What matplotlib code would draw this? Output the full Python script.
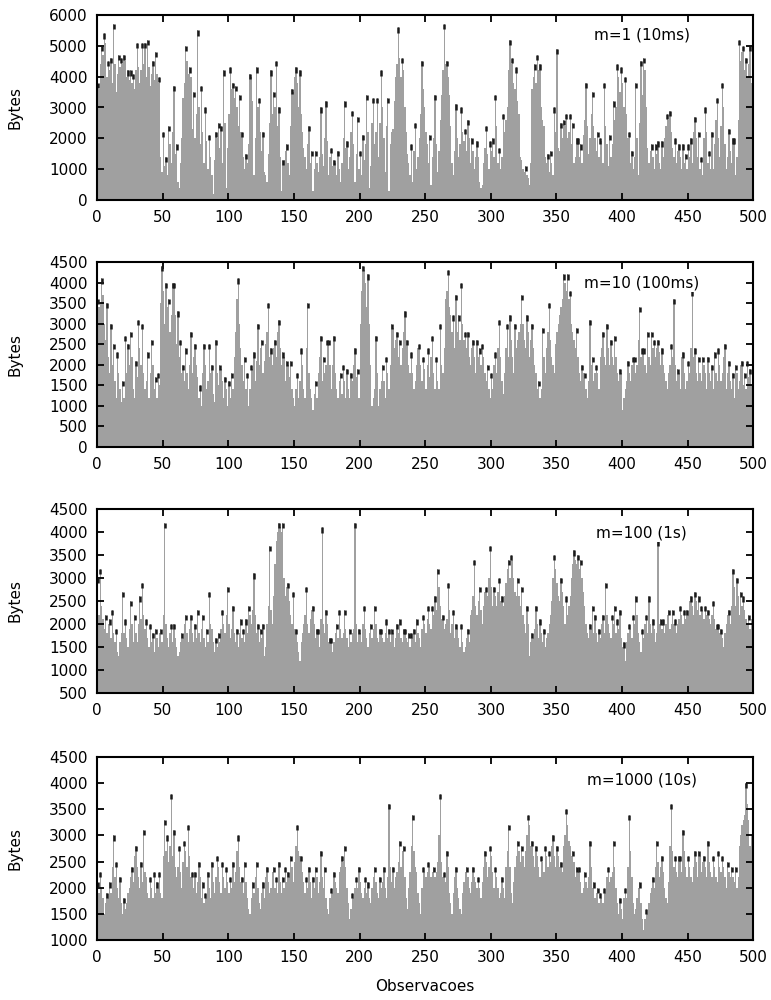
import numpy as np
from matplotlib import pyplot as plt

# values in hundreds of bytes, one per observation (0..499)
m1 = [38, 36, 44, 50, 47, 54, 51, 40, 45, 42,
      46, 38, 57, 44, 35, 41, 47, 43, 46, 44,
      47, 45, 40, 42, 39, 42, 38, 41, 36, 42,
      51, 43, 38, 42, 51, 44, 51, 40, 52, 43,
      37, 41, 45, 39, 48, 41, 38, 40, 14, 9,
      22, 11, 14, 8, 24, 18, 12, 22, 37, 15,
      18, 6, 4, 12, 20, 33, 38, 50, 45, 41,
      43, 40, 23, 35, 20, 28, 55, 30, 18, 37,
      22, 12, 30, 19, 10, 21, 14, 8, 2, 13,
      22, 20, 25, 17, 24, 12, 42, 25, 4, 17,
      28, 43, 36, 38, 33, 37, 30, 24, 34, 22,
      22, 14, 10, 15, 12, 18, 41, 40, 32, 8,
      20, 43, 30, 33, 22, 16, 22, 9, 8, 6,
      15, 25, 42, 28, 35, 30, 45, 24, 30, 14,
      3, 13, 13, 16, 18, 12, 8, 24, 36, 35,
      40, 43, 38, 30, 42, 28, 22, 17, 14, 10,
      18, 24, 12, 16, 3, 10, 16, 12, 9, 14,
      30, 15, 11, 20, 32, 19, 8, 14, 17, 11,
      13, 12, 8, 16, 10, 6, 12, 20, 32, 17,
      19, 10, 14, 22, 29, 18, 6, 15, 27, 10,
      16, 8, 21, 13, 18, 34, 22, 4, 11, 25,
      33, 18, 22, 33, 14, 25, 42, 30, 20, 9,
      24, 33, 3, 18, 22, 23, 32, 40, 44, 56,
      46, 40, 46, 42, 30, 22, 15, 12, 8, 18,
      6, 16, 25, 10, 14, 20, 28, 45, 36, 30,
      22, 18, 12, 21, 5, 14, 20, 34, 18, 9,
      16, 26, 34, 42, 57, 44, 45, 40, 34, 24,
      12, 8, 16, 31, 20, 14, 18, 30, 22, 19,
      23, 16, 26, 20, 12, 20, 16, 10, 14, 19,
      14, 6, 4, 5, 12, 17, 24, 15, 10, 19,
      16, 20, 14, 34, 24, 12, 17, 10, 14, 28,
      22, 26, 30, 42, 52, 44, 46, 38, 36, 43,
      32, 28, 14, 13, 10, 9, 11, 8, 7, 5,
      12, 36, 40, 44, 38, 47, 42, 44, 30, 26,
      24, 14, 12, 15, 9, 16, 12, 8, 30, 22,
      49, 17, 16, 25, 20, 26, 24, 28, 20, 22,
      28, 18, 25, 12, 14, 20, 20, 14, 18, 12,
      21, 26, 38, 24, 15, 20, 28, 35, 24, 20,
      16, 22, 14, 20, 19, 12, 38, 24, 18, 11,
      21, 14, 18, 32, 26, 30, 44, 40, 35, 43,
      38, 30, 40, 28, 20, 22, 12, 16, 10, 14,
      38, 20, 8, 25, 45, 34, 46, 42, 30, 17,
      12, 16, 18, 14, 10, 18, 15, 19, 12, 10,
      19, 14, 20, 24, 28, 26, 29, 22, 17, 14,
      20, 12, 16, 18, 14, 10, 18, 12, 15, 10,
      18, 14, 20, 12, 22, 27, 20, 14, 22, 10,
      14, 8, 20, 30, 22, 12, 16, 10, 22, 10,
      18, 26, 33, 20, 14, 24, 38, 30, 18, 10,
      14, 23, 16, 12, 20, 20, 8, 14, 26, 52,
      45, 48, 50, 42, 46, 40, 44, 50, 38, 46]

m10 = [36, 34, 35, 41, 37, 30, 26, 35, 22, 18,
       30, 20, 25, 16, 12, 23, 18, 14, 11, 16,
       12, 27, 18, 25, 20, 28, 22, 14, 12, 21,
       17, 31, 24, 20, 30, 18, 14, 16, 23, 12,
       18, 26, 20, 14, 17, 12, 18, 15, 35, 44,
       38, 30, 40, 34, 36, 28, 32, 40, 40, 32,
       25, 33, 22, 26, 18, 20, 16, 24, 18, 14,
       20, 28, 18, 22, 25, 20, 17, 12, 15, 10,
       18, 25, 20, 14, 16, 25, 18, 20, 13, 11,
       26, 18, 15, 20, 19, 16, 12, 17, 14, 10,
       16, 12, 18, 14, 22, 28, 36, 41, 30, 24,
       20, 16, 22, 14, 18, 10, 14, 20, 19, 23,
       16, 21, 30, 20, 24, 26, 18, 21, 25, 28,
       35, 22, 24, 20, 24, 26, 22, 28, 31, 24,
       20, 23, 22, 16, 21, 20, 17, 21, 14, 12,
       10, 14, 18, 12, 16, 24, 20, 14, 12, 24,
       35, 18, 14, 12, 9, 13, 16, 12, 18, 22,
       27, 16, 22, 18, 20, 26, 26, 20, 14, 20,
       27, 18, 14, 12, 16, 18, 13, 20, 16, 12,
       19, 14, 12, 18, 16, 20, 24, 17, 19, 12,
       30, 38, 44, 43, 40, 34, 42, 30, 20, 10,
       12, 14, 27, 18, 10, 14, 16, 20, 16, 12,
       22, 18, 14, 20, 30, 29, 24, 26, 28, 22,
       26, 20, 24, 28, 33, 26, 26, 20, 18, 23,
       18, 14, 16, 20, 24, 25, 20, 16, 22, 19,
       14, 20, 24, 17, 22, 27, 18, 14, 22, 16,
       14, 30, 20, 18, 24, 36, 38, 43, 34, 32,
       28, 32, 24, 37, 28, 32, 26, 40, 30, 26,
       28, 24, 28, 22, 20, 24, 26, 22, 18, 26,
       22, 24, 20, 25, 22, 18, 16, 20, 14, 12,
       18, 14, 20, 23, 18, 24, 31, 22, 16, 13,
       18, 24, 30, 22, 32, 26, 22, 18, 30, 24,
       26, 28, 30, 37, 30, 26, 24, 32, 28, 22,
       26, 30, 24, 20, 18, 14, 16, 12, 14, 29,
       22, 18, 24, 28, 35, 26, 22, 20, 18, 25,
       28, 30, 32, 34, 36, 42, 40, 38, 42, 36,
       38, 30, 28, 26, 24, 29, 22, 18, 16, 20,
       18, 18, 14, 12, 16, 31, 20, 22, 16, 18,
       20, 18, 14, 22, 24, 28, 22, 20, 30, 24,
       20, 26, 22, 20, 27, 22, 18, 16, 19, 18,
       9, 12, 14, 16, 21, 18, 16, 20, 22, 22,
       18, 20, 26, 34, 22, 24, 24, 20, 18, 28,
       22, 20, 28, 24, 26, 22, 24, 26, 23, 20,
       24, 20, 18, 16, 14, 18, 20, 25, 22, 36,
       20, 16, 19, 18, 14, 22, 23, 18, 14, 16,
       21, 18, 24, 38, 22, 24, 18, 16, 22, 18,
       16, 22, 20, 18, 14, 22, 18, 16, 20, 14,
       23, 18, 16, 24, 20, 16, 18, 22, 25, 14,
       18, 21, 16, 14, 18, 12, 20, 18, 14, 16,
       20, 21, 15, 18, 14, 21, 17, 19, 15, 20]

m100 = [30, 22, 32, 24, 21, 19, 22, 18, 20, 21,
        17, 23, 18, 16, 19, 14, 13, 16, 18, 27,
        18, 21, 17, 15, 19, 25, 20, 16, 22, 18,
        16, 20, 26, 21, 29, 22, 19, 21, 17, 15,
        20, 16, 18, 14, 19, 17, 15, 18, 19, 16,
        22, 42, 20, 17, 15, 18, 20, 16, 20, 17,
        15, 13, 14, 16, 18, 17, 20, 22, 18, 16,
        19, 22, 18, 16, 20, 17, 23, 18, 16, 19,
        22, 17, 15, 19, 16, 27, 20, 19, 16, 14,
        17, 15, 18, 16, 19, 23, 20, 18, 22, 28,
        20, 17, 19, 24, 18, 16, 19, 15, 18, 21,
        17, 19, 16, 21, 18, 24, 22, 20, 23, 31,
        22, 18, 20, 16, 19, 17, 20, 13, 15, 20,
        24, 37, 23, 20, 26, 33, 38, 40, 42, 41,
        40, 42, 30, 26, 28, 29, 25, 22, 20, 27,
        19, 19, 16, 14, 12, 16, 18, 20, 22, 28,
        20, 18, 21, 23, 24, 20, 17, 19, 19, 15,
        21, 41, 20, 18, 23, 20, 16, 17, 17, 14,
        16, 18, 20, 17, 23, 19, 17, 18, 23, 19,
        17, 15, 19, 16, 18, 19, 42, 20, 16, 19,
        18, 16, 20, 24, 19, 17, 15, 18, 20, 17,
        19, 24, 20, 17, 16, 19, 19, 17, 16, 18,
        21, 17, 19, 16, 19, 18, 15, 17, 20, 18,
        21, 17, 16, 19, 19, 17, 16, 18, 15, 18,
        17, 19, 16, 21, 18, 17, 15, 19, 22, 20,
        18, 21, 24, 20, 19, 24, 22, 26, 23, 32,
        28, 24, 21, 22, 19, 20, 21, 29, 23, 18,
        20, 23, 17, 20, 19, 17, 15, 20, 16, 14,
        15, 17, 19, 16, 22, 23, 26, 34, 24, 22,
        25, 28, 23, 20, 24, 27, 28, 26, 30, 37,
        28, 24, 28, 26, 24, 27, 30, 25, 26, 24,
        26, 29, 32, 34, 30, 35, 34, 30, 27, 26,
        30, 26, 24, 28, 22, 20, 18, 24, 20, 13,
        16, 18, 17, 19, 24, 20, 17, 21, 18, 16,
        19, 15, 17, 18, 20, 22, 25, 30, 35, 32,
        29, 26, 25, 30, 27, 24, 20, 26, 22, 24,
        26, 30, 33, 36, 34, 33, 35, 32, 34, 30,
        27, 24, 20, 18, 17, 20, 19, 24, 18, 22,
        18, 16, 19, 17, 20, 22, 18, 29, 22, 20,
        18, 17, 22, 20, 24, 18, 21, 19, 23, 17,
        15, 16, 12, 16, 18, 20, 19, 17, 22, 20,
        26, 22, 18, 16, 14, 19, 17, 20, 22, 18,
        26, 20, 18, 21, 19, 16, 18, 38, 20, 21,
        19, 21, 18, 20, 22, 23, 19, 20, 23, 20,
        21, 18, 20, 21, 24, 22, 20, 23, 21, 23,
        22, 25, 26, 24, 22, 27, 25, 23, 26, 22,
        24, 23, 21, 24, 22, 23, 21, 20, 22, 25,
        21, 19, 20, 20, 18, 19, 17, 15, 18, 20,
        22, 23, 20, 24, 32, 28, 24, 30, 26, 22,
        27, 24, 26, 23, 21, 20, 22, 19, 21, 23]

m1000 = [21, 19, 23, 20, 18, 15, 17, 19, 18, 21,
         19, 24, 30, 22, 25, 20, 18, 22, 17, 15,
         18, 16, 17, 19, 20, 22, 24, 21, 26, 28,
         24, 22, 20, 25, 21, 31, 23, 22, 19, 18,
         22, 20, 18, 23, 19, 21, 20, 23, 19, 18,
         26, 33, 27, 30, 25, 28, 38, 26, 31, 24,
         22, 24, 28, 23, 20, 25, 29, 27, 24, 32,
         26, 22, 23, 20, 23, 19, 21, 25, 22, 18,
         21, 17, 19, 18, 23, 20, 18, 25, 21, 19,
         22, 26, 24, 21, 19, 25, 22, 20, 24, 21,
         19, 22, 20, 25, 21, 23, 27, 30, 24, 21,
         22, 19, 25, 21, 18, 16, 15, 18, 21, 19,
         22, 25, 20, 17, 16, 19, 21, 18, 22, 24,
         21, 19, 20, 23, 24, 20, 22, 19, 25, 21,
         19, 22, 20, 24, 21, 23, 22, 26, 24, 21,
         25, 28, 32, 27, 26, 26, 23, 21, 19, 22,
         20, 24, 21, 18, 22, 20, 24, 22, 19, 21,
         27, 22, 20, 24, 18, 16, 15, 18, 20, 19,
         23, 21, 20, 19, 23, 24, 26, 25, 28, 24,
         20, 17, 14, 16, 19, 18, 20, 22, 20, 24,
         21, 19, 18, 20, 22, 19, 21, 18, 17, 20,
         22, 24, 21, 19, 18, 22, 20, 21, 24, 20,
         18, 22, 36, 24, 21, 24, 20, 22, 23, 25,
         29, 24, 27, 28, 22, 18, 16, 20, 23, 28,
         34, 27, 24, 23, 19, 17, 15, 20, 24, 23,
         22, 23, 25, 24, 22, 23, 24, 22, 23, 25,
         30, 38, 25, 22, 23, 21, 27, 24, 19, 17,
         15, 19, 22, 24, 20, 18, 16, 15, 19, 21,
         23, 24, 22, 20, 19, 21, 24, 22, 21, 20,
         22, 20, 18, 21, 24, 27, 25, 22, 24, 28,
         26, 23, 20, 24, 22, 20, 18, 19, 22, 20,
         18, 24, 27, 32, 24, 19, 17, 21, 24, 26,
         29, 27, 25, 28, 26, 24, 27, 30, 34, 32,
         28, 29, 26, 24, 28, 26, 24, 22, 26, 25,
         23, 28, 26, 24, 27, 25, 28, 30, 26, 24,
         28, 26, 24, 25, 23, 28, 30, 35, 32, 29,
         28, 26, 27, 25, 22, 24, 23, 24, 21, 19,
         20, 23, 21, 20, 22, 29, 24, 20, 21, 18,
         19, 20, 17, 19, 18, 17, 20, 19, 22, 24,
         21, 22, 23, 29, 24, 20, 17, 15, 18, 16,
         14, 18, 20, 18, 24, 34, 27, 22, 17, 15,
         16, 18, 20, 21, 17, 14, 12, 14, 16, 15,
         17, 19, 20, 22, 20, 24, 29, 25, 22, 24,
         26, 23, 20, 18, 17, 21, 28, 36, 27, 24,
         26, 23, 22, 26, 26, 23, 31, 27, 24, 22,
         26, 24, 22, 21, 24, 27, 25, 22, 27, 26,
         23, 25, 26, 24, 22, 29, 25, 23, 22, 26,
         24, 22, 21, 27, 24, 23, 26, 24, 22, 20,
         25, 23, 22, 24, 22, 21, 24, 20, 22, 28,
         30, 32, 33, 34, 40, 36, 33, 28, 30, 31]

labels = ['m=1 (10ms)', 'm=10 (100ms)', 'm=100 (1s)', 'm=1000 (10s)']
ylims = [(0, 6000), (0, 4500), (500, 4500), (1000, 4500)]
ysteps = [1000, 500, 500, 500]
label_y = [0.89, 0.885, 0.87, 0.875]

plt.rcParams['font.family'] = ['DejaVu Sans']

fig = plt.figure(figsize=(7.71, 10), dpi=100)
boxes = [(0.126, 0.800, 0.851, 0.185),
         (0.126, 0.553, 0.851, 0.185),
         (0.126, 0.307, 0.851, 0.184),
         (0.126, 0.060, 0.851, 0.183)]

for k, series in enumerate([m1, m10, m100, m1000]):
    ax = fig.add_axes(boxes[k])
    vals = np.array(series) * 100
    x = np.arange(len(vals))
    ax.bar(x, vals, width=1.0, align='edge', color='#a0a0a0', linewidth=0)

    # dark tips on the local peaks
    lo, hi = ylims[k]
    cap = (hi - lo) * 0.028
    left = np.r_[vals[0] - 1, vals[:-1]]
    right = np.r_[vals[1:], vals[-1] - 1]
    pk = (vals >= left) & (vals >= right)
    ax.vlines(x[pk] + 0.5, vals[pk] - cap, vals[pk], color='#1a1a1a', lw=1.8)

    ax.set_xlim(0, 500)
    ax.set_ylim(lo, hi)
    ax.set_xticks(np.arange(0, 501, 50))
    ax.set_yticks(np.arange(lo, hi + 1, ysteps[k]))
    ax.tick_params(direction='in', top=True, right=True, length=5, width=1.3,
                   labelsize=11, pad=7)
    for s in ax.spines.values():
        s.set_linewidth(1.5)
    ax.text(0.83, label_y[k], labels[k], transform=ax.transAxes,
            ha='center', va='center', fontsize=11,
            bbox=dict(facecolor='white', edgecolor='none', pad=1))
    fig.text(0.02, boxes[k][1] + boxes[k][3] / 2, 'Bytes', rotation=90,
             ha='center', va='center', fontsize=11)
    if k == 3:
        ax.set_xlabel('Observacoes', fontsize=11, labelpad=10)

fig.savefig('out.png', dpi=100)
